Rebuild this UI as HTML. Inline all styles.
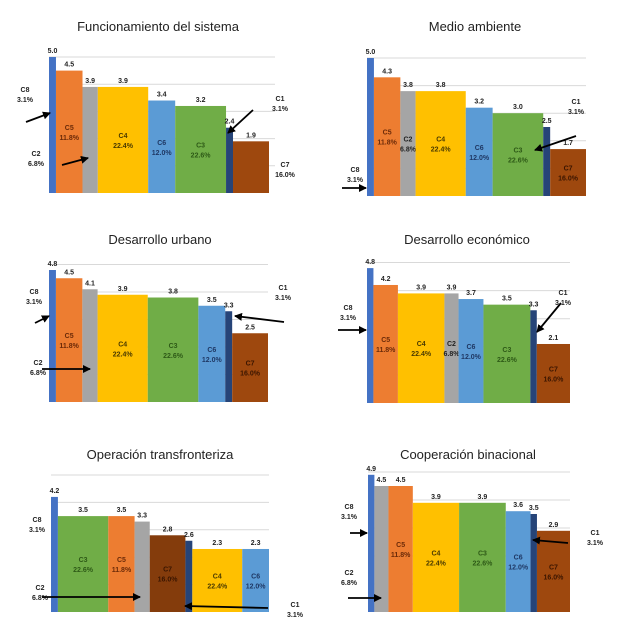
<!DOCTYPE html>
<html><head><meta charset="utf-8">
<style>
html,body{margin:0;padding:0;background:#fff;}
svg{display:block;font-family:"Liberation Sans",sans-serif;}
</style></head>
<body>
<svg id="s" width="624" height="640" viewBox="0 0 624 640"></svg>
<script>
// shares (bar widths, %) per cluster
const clusterNames = ["C1","C2","C3","C4","C5","C6","C7","C8"];
const clusterShares = [3.1, 6.8, 22.6, 22.4, 11.8, 12.0, 16.0, 3.1];
// chart titles
const titles = ["Funcionamiento del sistema","Medio ambiente","Desarrollo urbano","Desarrollo económico","Operación transfronteriza","Cooperación binacional"];
// per-chart category order and values
const cats1 = ["C8","C5","C2","C4","C6","C3","C1","C7"];
const vals1 = [5.0, 4.5, 3.9, 3.9, 3.4, 3.2, 2.4, 1.9];
const cats2 = ["C8","C5","C2","C4","C6","C3","C1","C7"];
const vals2 = [5.0, 4.3, 3.8, 3.8, 3.2, 3.0, 2.5, 1.7];
const cats3 = ["C8","C5","C2","C4","C3","C6","C1","C7"];
const vals3 = [4.8, 4.5, 4.1, 3.9, 3.8, 3.5, 3.3, 2.5];
const cats4 = ["C8","C5","C4","C2","C6","C3","C1","C7"];
const vals4 = [4.8, 4.2, 3.9, 3.9, 3.7, 3.5, 3.3, 2.1];
const cats5 = ["C8","C3","C5","C2","C7","C1","C4","C6"];
const vals5 = [4.2, 3.5, 3.5, 3.3, 2.8, 2.6, 2.3, 2.3];
const cats6 = ["C8","C2","C5","C4","C3","C6","C1","C7"];
const vals6 = [4.9, 4.5, 4.5, 3.9, 3.9, 3.6, 3.5, 2.9];
const gridTicks = [1, 2, 3, 4, 5];

const catsAll=[cats1,cats2,cats3,cats4,cats5,cats6];
const valsAll=[vals1,vals2,vals3,vals4,vals5,vals6];
const frames=[
 {x0:49,x1:269,base:193,scale:27.2,tx:158,ty:31,gr:275},
 {x0:367,x1:586,base:196,scale:27.6,tx:475,ty:31,gr:586},
 {x0:49,x1:268,base:402,scale:27.5,tx:160,ty:244,gr:268},
 {x0:367,x1:570,base:403,scale:28.1,tx:467,ty:244,gr:570},
 {x0:51,x1:269,base:612,scale:27.4,tx:160,ty:459,gr:269},
 {x0:368,x1:570,base:612,scale:28.0,tx:468,ty:459,gr:570}
];
const fills={C1:"#264478",C2:"#A5A5A5",C3:"#70AD47",C4:"#FFC000",C5:"#ED7D31",C6:"#5B9BD5",C7:"#9E480E",C8:"#4472C4"};
const inkCol={C3:"#2e5a17",C4:"#4a3a00",C5:"#6b2a08",C6:"#1f3864",C7:"#3a1500",C2:"#222"};
const outside=[["C8","C2","C1","C7"],["C8","C1"],["C8","C2","C1"],["C8","C1"],["C8","C2","C1"],["C8","C2","C1"]];
const annots=[
 {C8:[25,92],C2:[36,156],C1:[280,101],C7:[285,167],arrows:[[26,122,50,113],[62,165,88,158],[253,110,228,133]]},
 {C8:[355,172],C1:[576,104],arrows:[[342,188,366,188],[576,136,535,150]]},
 {C8:[34,294],C2:[38,365],C1:[283,290],arrows:[[35,323,49,316],[42,369,90,369],[284,322,235,316]]},
 {C8:[348,310],C1:[563,295],arrows:[[338,330,366,330],[561,303,537,332]]},
 {C8:[37,522],C2:[40,590],C1:[295,607],arrows:[[42,597,140,597],[268,608,185,606]]},
 {C8:[349,509],C2:[349,575],C1:[595,535],arrows:[[350,533,367,533],[348,598,381,598],[568,543,533,540]]}
];
const NS="http://www.w3.org/2000/svg";
const svg=document.getElementById('s');
function mk(tag,attrs,parent){const e=document.createElementNS(NS,tag);for(const k in attrs)e.setAttribute(k,attrs[k]);(parent||svg).appendChild(e);return e;}
const defs=mk('defs',{});
const mrk=mk('marker',{id:'ah',markerWidth:8,markerHeight:8,refX:7,refY:4,orient:'auto',markerUnits:'userSpaceOnUse'},defs);
mk('path',{d:'M0,0 L8,4 L0,8 Z',fill:'#000'},mrk);
const total=clusterShares.reduce((a,b)=>a+b,0);
function share(c){return clusterShares[clusterNames.indexOf(c)];}

frames.forEach((f,ci)=>{
  const g=mk('g',{});
  
  
  const yOf=v=>f.base-v*f.scale;
  const xw=s=>s/total*(f.x1-f.x0);
  const t=mk('text',{x:f.tx,y:f.ty,'text-anchor':'middle','font-size':13,fill:'#222'},g);
  t.textContent=titles[ci];
  
  
  gridTicks.forEach(v=>{
    const l=mk('line',{x1:f.x0,x2:f.gr,y1:yOf(v),y2:yOf(v),stroke:'#d9d9d9','stroke-width':1},g);
    
    
  });
  let x=f.x0;
  const cats=catsAll[ci], vals=valsAll[ci];
  cats.forEach((c,i)=>{
    const w=xw(share(c)), v=vals[i];
    const r=mk('rect',{x:x,y:yOf(v),width:w,height:v*f.scale,fill:(ci===4&&c==="C7")?"#843C0C":fills[c]},g);
    
    
    const vl=mk('text',{x:x+w/2,y:yOf(v)-4,'text-anchor':'middle','font-size':7,'font-weight':'bold',fill:'#222'},g);
    vl.textContent=v.toFixed(1);
    
    
    if(outside[ci].indexOf(c)<0){
      const my=(yOf(v)+f.base)/2;
      const col=inkCol[c]||'#222';
      const a=mk('text',{x:x+w/2,y:my-2,'text-anchor':'middle','font-size':7,'font-weight':'bold',fill:col},g);
      a.textContent=c;
      
      
      const b=mk('text',{x:x+w/2,y:my+8,'text-anchor':'middle','font-size':7,'font-weight':'bold',fill:col},g);
      b.textContent=share(c).toFixed(1)+'%';
      
      
    }
    x+=w;
  });
  const an=annots[ci];
  outside[ci].forEach(c=>{
    const p=an[c];
    const a=mk('text',{x:p[0],y:p[1],'text-anchor':'middle','font-size':7,'font-weight':'bold',fill:'#222'},g);
    a.textContent=c;
    
    
    const b=mk('text',{x:p[0],y:p[1]+10,'text-anchor':'middle','font-size':7,'font-weight':'bold',fill:'#222'},g);
    b.textContent=share(c).toFixed(1)+'%';
    
    
  });
  an.arrows.forEach(ar=>{
    const l=mk('line',{x1:ar[0],y1:ar[1],x2:ar[2],y2:ar[3],stroke:'#000','stroke-width':1.8,'marker-end':'url(#ah)'},g);
    
    
  });
});
</script>
</body></html>
